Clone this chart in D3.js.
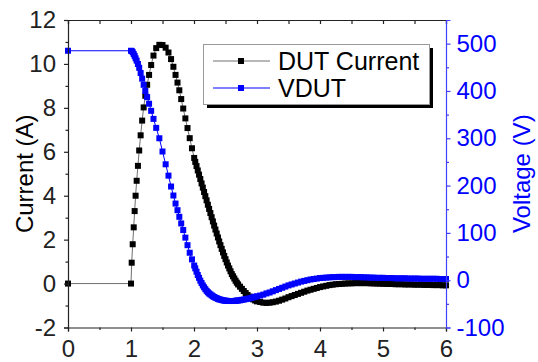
<!DOCTYPE html>
<html>
<head>
<meta charset="utf-8">
<script src="https://cdn.jsdelivr.net/npm/d3@7"></script>
<style>
  html, body { margin: 0; padding: 0; background: #fff; }
  svg { display: block; }
  text { font-family: "Liberation Sans", Arial, sans-serif; }
</style>
</head>
<body>
<svg id="chart" width="538" height="362"></svg>
<script>
// Time samples (µs) shared by both traces
const timeUs = [
  0, 1.0, 1.011, 1.027, 1.043, 1.058, 1.073, 1.09, 1.11, 1.13, 1.153, 1.177, 1.201, 1.227,
  1.256, 1.287, 1.32, 1.357, 1.40, 1.45, 1.50, 1.55, 1.595, 1.636, 1.673, 1.707, 1.738,
  1.767, 1.797, 1.829, 1.863, 1.897, 1.932, 1.968, 2.003,
  2.02, 2.04, 2.06, 2.08, 2.10, 2.12, 2.14, 2.16, 2.18, 2.20, 2.22, 2.24, 2.26, 2.28,
  2.30, 2.32, 2.34, 2.36, 2.38, 2.40, 2.42, 2.44, 2.46, 2.48, 2.50, 2.52, 2.54, 2.56,
  2.58, 2.60, 2.62, 2.64, 2.66, 2.68, 2.70,
  2.73, 2.76, 2.79, 2.82, 2.85, 2.88, 2.91, 2.94, 2.97, 3.00,
  3.05, 3.10, 3.15, 3.20, 3.25, 3.30, 3.35, 3.40, 3.45, 3.50, 3.55, 3.60, 3.65, 3.70,
  3.75, 3.80, 3.85, 3.90, 3.95, 4.00, 4.05, 4.10, 4.15, 4.20, 4.25, 4.30, 4.35, 4.40,
  4.45, 4.50, 4.55, 4.60, 4.65, 4.70, 4.75, 4.80, 4.85, 4.90, 4.95, 5.00, 5.05, 5.10,
  5.15, 5.20, 5.25, 5.30, 5.35, 5.40, 5.45, 5.50, 5.55, 5.60, 5.65, 5.70, 5.75, 5.80,
  5.85, 5.90, 5.95, 6.00
];

// DUT current (A)
const dutCurrent = [
  0, 0, 0.95, 1.79, 2.56, 3.30, 4.00, 4.68, 5.36, 6.06, 6.75, 7.42, 8.02, 8.55,
  9.05, 9.50, 9.95, 10.38, 10.72, 10.87, 10.86, 10.74, 10.52, 10.22, 9.87, 9.50, 9.15,
  8.80, 8.40, 7.97, 7.52, 7.08, 6.62, 6.16, 5.72,
  5.54, 5.35, 5.15, 4.96, 4.76, 4.56, 4.37, 4.17, 3.98, 3.79, 3.59, 3.40, 3.21, 3.02,
  2.83, 2.64, 2.46, 2.28, 2.10, 1.92, 1.75, 1.58, 1.42, 1.26, 1.11, 0.96, 0.82, 0.69,
  0.56, 0.43, 0.33, 0.23, 0.13, 0.04, -0.04,
  -0.14, -0.24, -0.34, -0.43, -0.52, -0.59, -0.66, -0.72, -0.77, -0.81,
  -0.84, -0.87, -0.88, -0.87, -0.85, -0.82, -0.78, -0.73, -0.68, -0.62, -0.57, -0.52, -0.47, -0.42,
  -0.37, -0.32, -0.28, -0.24, -0.20, -0.16, -0.13, -0.10, -0.07, -0.05, -0.03, -0.02, -0.01, 0.00,
  0.01, 0.01, 0.02, 0.02, 0.02, 0.02, 0.02, 0.01, 0.01, 0.00, 0.00, -0.01, -0.01, -0.02,
  -0.02, -0.03, -0.03, -0.03, -0.04, -0.04, -0.04, -0.05, -0.05, -0.05, -0.06, -0.06, -0.06, -0.07,
  -0.07, -0.07, -0.08, -0.08
];

// Device voltage VDUT (V)
const vdut = [
  485, 485, 484.5, 482, 478, 474, 469, 464, 457, 449, 438, 426, 413, 400,
  387, 373, 358, 341, 322, 300, 272, 245, 221, 198, 179, 162, 148,
  134, 120, 106, 90, 74, 58, 44, 31,
  25, 18, 11, 5, -1, -6, -11, -15, -19, -22.5, -25.5, -28, -30, -32,
  -34, -35.5, -37, -38, -39.5, -40.5, -41, -42, -42.5, -43, -43.5, -43.5, -44, -44,
  -44, -44, -44, -44, -43.5, -43, -43,
  -42.5, -41.5, -41, -40, -39.5, -38.5, -37.5, -36, -35, -34,
  -32.5, -30.5, -28, -26, -23.5, -21, -18.5, -16, -13.5, -11, -9, -7, -5, -3,
  -1.5, 0, 1.5, 2.5, 3.5, 4.5, 5, 5.5, 6, 6.5, 6.5, 7, 7, 7,
  7, 7, 6.5, 6.5, 6.5, 6, 6, 5.5, 5.5, 5, 5, 5, 4.5, 4.5,
  4.5, 4, 4, 4, 4, 3.5, 3.5, 3.5, 3.5, 3, 3, 3, 3, 3,
  3, 2.5, 2.5, 2.5
];

// Axis ticks
const xTicks = [0, 1, 2, 3, 4, 5, 6];
const xMinorTicks = [0.5, 1.5, 2.5, 3.5, 4.5, 5.5];
const currentTicks = [-2, 0, 2, 4, 6, 8, 10, 12];
const currentMinorTicks = [-1, 1, 3, 5, 7, 9, 11];
const voltageTicks = [-100, 0, 100, 200, 300, 400, 500];
const voltageMinorTicks = [-50, 50, 150, 250, 350, 450];

const seriesNames = ["DUT Current", "VDUT"];

const BLUE = "#0000ff";
const FONT = 24;

const svg = d3.select("#chart");
const plot = { left: 68, right: 446, top: 20, bottom: 327.5 };

const x = d3.scaleLinear().domain([0, 6]).range([plot.left, plot.right]);
const yI = d3.scaleLinear().domain([-2, 12]).range([plot.bottom, plot.top]);
const yV = d3.scaleLinear().domain([-100, 550]).range([plot.bottom, plot.top]);

const currentPts = timeUs.map((t, i) => [t, dutCurrent[i]]);
const voltagePts = timeUs.map((t, i) => [t, vdut[i]]);

// Traces: thin connecting line plus square markers
const MS = 6;
function drawTrace(pts, yScale, lineColor, markColor) {
  const g = svg.append("g");
  g.append("path")
    .datum(pts)
    .attr("fill", "none")
    .attr("stroke", lineColor)
    .attr("stroke-width", 1)
    .attr("d", d3.line().x(d => x(d[0])).y(d => yScale(d[1])));
  g.selectAll("rect")
    .data(pts)
    .join("rect")
    .attr("x", d => x(d[0]) - MS / 2)
    .attr("y", d => yScale(d[1]) - MS / 2)
    .attr("width", MS)
    .attr("height", MS)
    .attr("fill", markColor);
}
drawTrace(currentPts, yI, "#707070", "#000");
drawTrace(voltagePts, yV, BLUE, BLUE);

// Plain hyphen-minus labels
const plainFmt = d => String(d);

// Axes
const bottomAxis = d3.axisBottom(x).tickValues(xTicks).tickSize(4).tickPadding(8).tickFormat(plainFmt);
const bottomMinor = d3.axisBottom(x).tickValues(xMinorTicks).tickSize(2.5).tickFormat("");
const topAxis = d3.axisBottom(x).tickValues(xTicks.concat(xMinorTicks)).tickSize(4).tickFormat("");
const leftAxis = d3.axisLeft(yI).tickValues(currentTicks).tickSize(4).tickPadding(8).tickFormat(plainFmt);
const leftMinor = d3.axisLeft(yI).tickValues(currentMinorTicks).tickSize(2.5).tickFormat("");
const rightAxis = d3.axisRight(yV).tickValues(voltageTicks).tickSize(4.5).tickPadding(6).tickFormat(plainFmt);
const rightMinor = d3.axisRight(yV).tickValues(voltageMinorTicks).tickSize(3).tickFormat("");

function styleAxis(g, color) {
  g.selectAll(".domain").attr("stroke", color).attr("stroke-width", 1.2);
  g.selectAll(".tick line").attr("stroke", color).attr("stroke-width", 1.2);
  g.selectAll(".tick text").attr("fill", color).style("font-size", FONT + "px")
    .style("font-family", '"Liberation Sans", Arial, sans-serif');
}

const gTop = svg.append("g").attr("transform", `translate(0,${plot.top})`).call(topAxis);
styleAxis(gTop, "#222");
const gBottom = svg.append("g").attr("transform", `translate(0,${plot.bottom})`).call(bottomAxis);
styleAxis(gBottom, "#222");
const gBottomMinor = svg.append("g").attr("transform", `translate(0,${plot.bottom})`).call(bottomMinor);
styleAxis(gBottomMinor, "#222");
gBottomMinor.select(".domain").remove();
const gLeft = svg.append("g").attr("transform", `translate(${plot.left},0)`).call(leftAxis);
styleAxis(gLeft, "#222");
const gLeftMinor = svg.append("g").attr("transform", `translate(${plot.left},0)`).call(leftMinor);
styleAxis(gLeftMinor, "#222");
gLeftMinor.select(".domain").remove();
const gRight = svg.append("g").attr("transform", `translate(${plot.right},0)`).call(rightAxis);
styleAxis(gRight, BLUE);
gRight.select(".domain").attr("stroke", "#4040ff");
gRight.selectAll(".tick line").attr("stroke", "#4040ff");
const gRightMinor = svg.append("g").attr("transform", `translate(${plot.right},0)`).call(rightMinor);
styleAxis(gRightMinor, "#4040ff");
gRightMinor.select(".domain").remove();

// Axis titles
svg.append("text")
  .attr("transform", `translate(33,${(plot.top + plot.bottom) / 2}) rotate(-90)`)
  .attr("text-anchor", "middle")
  .style("font-size", FONT + "px")
  .attr("fill", "#000")
  .text("Current (A)");
svg.append("text")
  .attr("transform", `translate(530,${(plot.top + plot.bottom) / 2}) rotate(-90)`)
  .attr("text-anchor", "middle")
  .style("font-size", FONT + "px")
  .attr("fill", BLUE)
  .text("Voltage (V)");

// Legend
const lg = svg.append("g");
const box = { x: 203, y: 44, w: 226, h: 60 };
lg.append("rect").attr("x", box.x + 4).attr("y", box.y + 4).attr("width", box.w).attr("height", box.h).attr("fill", "#000");
lg.append("rect").attr("x", box.x + 0.5).attr("y", box.y + 0.5).attr("width", box.w).attr("height", box.h)
  .attr("fill", "#fff").attr("stroke", "#999").attr("stroke-width", 1);
const legendRows = [
  { name: seriesNames[0], line: "#707070", mark: "#000", cy: 61 },
  { name: seriesNames[1], line: BLUE, mark: BLUE, cy: 88 }
];
legendRows.forEach(r => {
  lg.append("line").attr("x1", 213).attr("x2", 270).attr("y1", r.cy).attr("y2", r.cy)
    .attr("stroke", r.line).attr("stroke-width", 1);
  lg.append("rect").attr("x", 241 - MS / 2).attr("y", r.cy - MS / 2).attr("width", MS).attr("height", MS).attr("fill", r.mark);
  lg.append("text").attr("x", 278).attr("y", r.cy + 8.5).style("font-size", "25px").attr("fill", "#000").text(r.name);
});
</script>
</body>
</html>
